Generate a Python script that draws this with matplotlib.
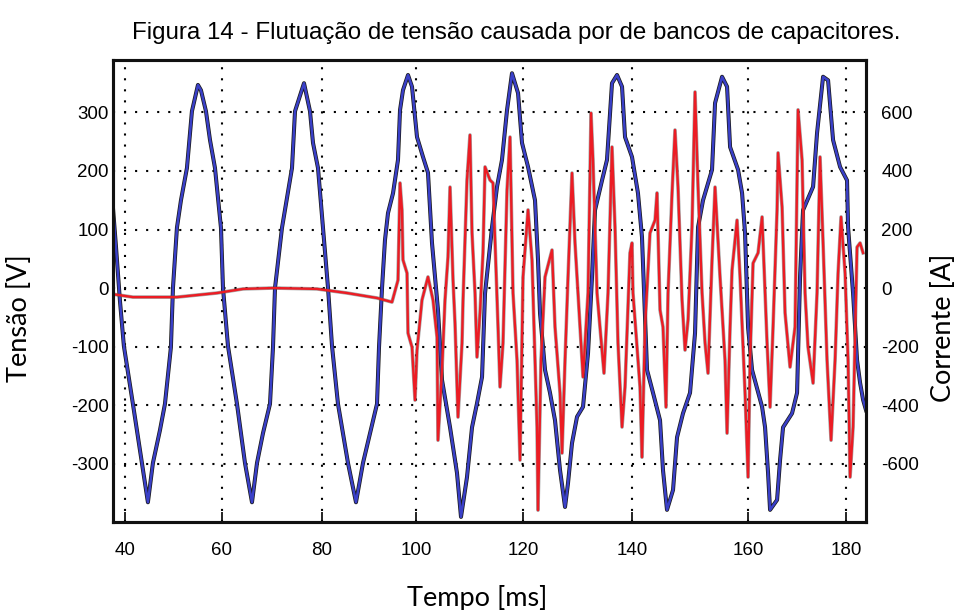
import numpy as np
import matplotlib.pyplot as plt

# tensão medida [V] x tempo [ms]
t_tensao = [37.53, 38.14, 38.97, 39.79, 41.65, 43.51, 44.74, 45.77, 47.22, 48.25,
            49.48, 49.90, 50.72, 51.55, 52.78, 53.81, 55.05, 55.67, 56.70, 57.53,
            58.56, 59.79, 60.20, 61.2, 63.0, 64.6, 66.0, 67.0, 68.2, 69.6,
            70.2, 70.6, 72.0, 74.0, 74.6, 76.4, 77.6, 78.2, 79.2, 80.21,
            81.28, 82.13, 83.40, 85.53, 87.23, 88.72, 91.70, 92.13, 92.77, 93.40,
            94.04, 95.11, 96.17, 96.60, 97.23, 98.30, 99.15, 100.19, 101.31, 102.24,
            102.99, 104.11, 104.86, 106.36, 107.66, 108.41, 109.53, 110.47, 111.40, 112.34,
            112.90, 114.21, 115.14, 116.07, 117.01, 117.94, 119.07, 119.81, 120.92, 122.20,
            122.75, 123.12, 124.04, 124.95, 125.87, 126.79, 127.71, 128.26, 128.99, 129.91,
            131.01, 131.93, 132.66, 133.21, 134.50, 135.41, 136.33, 137.25, 138.17, 138.72,
            140.00, 141.03, 141.72, 142.59, 143.62, 144.83, 145.34, 146.03, 147.07, 147.76,
            148.79, 150.00, 150.86, 151.38, 152.24, 153.79, 154.31, 155.52, 156.38, 156.90,
            158.28, 158.97, 159.48, 160.00, 160.82, 162.86, 163.47, 164.08, 164.49, 165.92,
            166.53, 167.14, 168.98, 170.00, 170.61, 171.22, 173.27, 174.08, 175.31, 176.33,
            177.35, 178.78, 180.20, 180.41, 181.43, 182.24, 182.86, 183.47, 184.08]
tensao = [138, 73, -21, -99, -198, -299, -366, -299, -243, -198,
          -101, 0, 103, 150, 205, 302, 347, 338, 302, 253,
          205, 103, 0, -99, -198, -299, -366, -299, -248, -198,
          -101, 0, 103, 205, 302, 350, 302, 248, 205, 103,
          0, -99, -198, -299, -366, -299, -198, -101, 0, 82,
          128, 162, 219, 304, 338, 364, 344, 258, 224, 197,
          77, -38, -157, -238, -316, -391, -323, -238, -197, -152,
          -9, 104, 173, 219, 304, 367, 333, 248, 207, 150,
          48, -43, -140, -179, -226, -311, -374, -333, -265, -220,
          -203, -111, 19, 133, 184, 219, 350, 364, 344, 258,
          224, 162, 87, -140, -179, -226, -311, -379, -345, -255,
          -214, -179, -77, 104, 150, 202, 316, 361, 344, 241,
          202, 162, 94, -67, -140, -203, -238, -316, -379, -362,
          -294, -238, -214, -179, 19, 133, 173, 265, 361, 355,
          253, 207, 184, 104, -9, -123, -162, -191, -209]

# corrente medida [A] x tempo [ms]
t_corrente = [37.53, 41.65, 50.72, 58.97, 64.2, 70.2, 79.0, 85.32, 91.70, 94.89,
              96.17, 96.60, 97.02, 97.23, 98.09, 98.30, 99.15, 99.79, 100.19, 101.12,
              102.24, 103.18, 103.93, 104.11, 104.86, 105.42, 105.98, 106.36, 106.92, 107.29,
              107.85, 108.60, 108.79, 109.53, 110.09, 110.47, 111.03, 111.40, 111.96, 112.52,
              112.90, 113.83, 114.39, 115.33, 115.70, 116.26, 117.01, 117.57, 118.13, 118.88,
              119.44, 120.00, 120.92, 121.65, 122.20, 122.57, 122.75, 123.30, 124.04, 125.32,
              125.87, 126.79, 127.16, 127.71, 128.26, 128.99, 129.54, 130.46, 131.01, 131.93,
              132.48, 132.84, 133.58, 134.13, 134.86, 135.60, 136.33, 136.88, 137.43, 138.17,
              138.72, 139.63, 140.00, 140.17, 141.38, 141.72, 142.24, 143.10, 143.97, 144.31,
              144.83, 145.34, 145.86, 146.21, 146.90, 147.41, 147.93, 148.62, 149.14, 149.66,
              150.34, 150.86, 151.38, 152.07, 152.59, 153.10, 153.79, 154.31, 155.17, 156.03,
              156.38, 156.90, 157.24, 158.10, 158.62, 159.48, 160.00, 160.41, 161.02, 162.04,
              162.86, 163.47, 163.88, 164.49, 165.10, 165.92, 166.12, 166.94, 167.55, 168.57,
              169.59, 170.20, 171.02, 171.63, 172.24, 173.27, 174.08, 174.69, 175.31, 176.12,
              176.94, 177.76, 178.37, 178.98, 179.80, 180.41, 180.82, 181.43, 182.24, 182.86,
              183.47]
corrente = [-21, -31, -31, -17, -3, 0, -3, -17, -34, -48,
            27, 359, 267, 96, 51, -154, -202, -383, -212, -41,
            38, -41, -168, -520, -280, -41, 106, 345, 27, -120,
            -441, -188, -41, 369, 523, 188, -17, -236, -85, 120,
            414, 369, 359, -133, -338, -188, 335, 516, -17, -246,
            -588, 38, 267, 96, -246, -475, -759, -246, 38, 130,
            -133, -359, -564, -246, 38, 393, 154, -133, -304, -17,
            598, 438, -17, -133, -291, -17, 482, 209, -188, -475,
            -338, 120, 154, -17, -338, -578, -133, 188, 232, 325,
            -75, -133, -407, -17, 325, 540, 345, -41, -212, -109,
            209, 670, 345, -17, -188, -291, 96, 345, 38, -246,
            -496, -133, 62, 232, 38, -359, -646, -246, 85, 120,
            243, -17, -188, -407, -133, 267, 462, 277, -85, -270,
            -133, 609, 438, -17, -202, -325, -17, 448, 154, -246,
            -520, -246, 51, 243, 51, -246, -646, -475, 140, 154,
            120]

x_ticks = [40, 60, 80, 100, 120, 140, 160, 180]
v_ticks = [-300, -200, -100, 0, 100, 200, 300]
a_ticks = [-600, -400, -200, 0, 200, 400, 600]

# a escala de tempo do osciloscópio não é uniforme: posição de cada marca
# no eixo (fração da largura)
ms_nos = [37.53, 40, 60, 80, 100, 120, 140, 160, 180, 184.08]
frac_nos = [0, 0.0159, 0.1448, 0.2776, 0.4024, 0.5445, 0.6892, 0.8433, 0.9734, 1]


def para_frac(x):
    return np.interp(x, ms_nos, frac_nos)


def para_ms(f):
    return np.interp(f, frac_nos, ms_nos)


plt.rcParams['font.family'] = 'Liberation Sans'
plt.rcParams['axes.unicode_minus'] = False

fig = plt.figure(figsize=(9.57, 6.1), dpi=100)
ax = fig.add_axes([0.118, 0.144, 0.787, 0.758])
ax.set_xscale('function', functions=(para_frac, para_ms))
ax.set_xlim(ms_nos[0], ms_nos[-1])
ax2 = ax.twinx()

# tensão: traço preto por baixo, azul por cima
ax.plot(t_tensao, tensao, color='#1a1a1a', lw=2.9, solid_joinstyle='round')
ax.plot(t_tensao, tensao, color='#3a40c8', lw=1.8, solid_joinstyle='round')

# corrente no eixo da direita
ax2.plot(t_corrente, corrente, color='#505050', lw=2.6, alpha=0.5,
         solid_joinstyle='round')
ax2.plot(t_corrente, corrente, color='#ec1c24', lw=1.7, solid_joinstyle='round')

ax.set_ylim(-400, 390)
ax2.set_ylim(-800, 780)

ax.set_xticks(x_ticks)
ax.set_xticklabels([str(v) for v in x_ticks])
ax.xaxis.set_minor_locator(plt.NullLocator())
ax.set_yticks(v_ticks)
ax2.set_yticks(a_ticks)

ax.grid(True, color='black', linestyle=(0, (1, 4.3)), linewidth=1.5)
ax.set_axisbelow(True)

ax.tick_params(axis='x', direction='in', length=7, width=1.2, labelsize=13.5, pad=14)
ax.tick_params(axis='y', length=0, labelsize=13.5, pad=3)
ax2.tick_params(axis='y', length=0, labelsize=13.5, pad=11)

for a in (ax, ax2):
    for s in a.spines.values():
        s.set_linewidth(2.2)
        s.set_color('#111111')

fig.text(0.539, 0.946, 'Figura 14 - Flutuação de tensão causada por de bancos de capacitores.',
         ha='center', va='center', fontsize=17.4)
fig.text(0.020, 0.478, 'Tensão [V]', rotation=90, ha='center', va='center',
         fontsize=19.5, family='Lato')
fig.text(0.986, 0.462, 'Corrente [A]', rotation=90, ha='center', va='center',
         fontsize=19.5, family='Lato')
fig.text(0.499, 0.020, 'Tempo [ms]', ha='center', va='center',
         fontsize=19.5, family='Lato')

fig.savefig('out.png', dpi=100)
